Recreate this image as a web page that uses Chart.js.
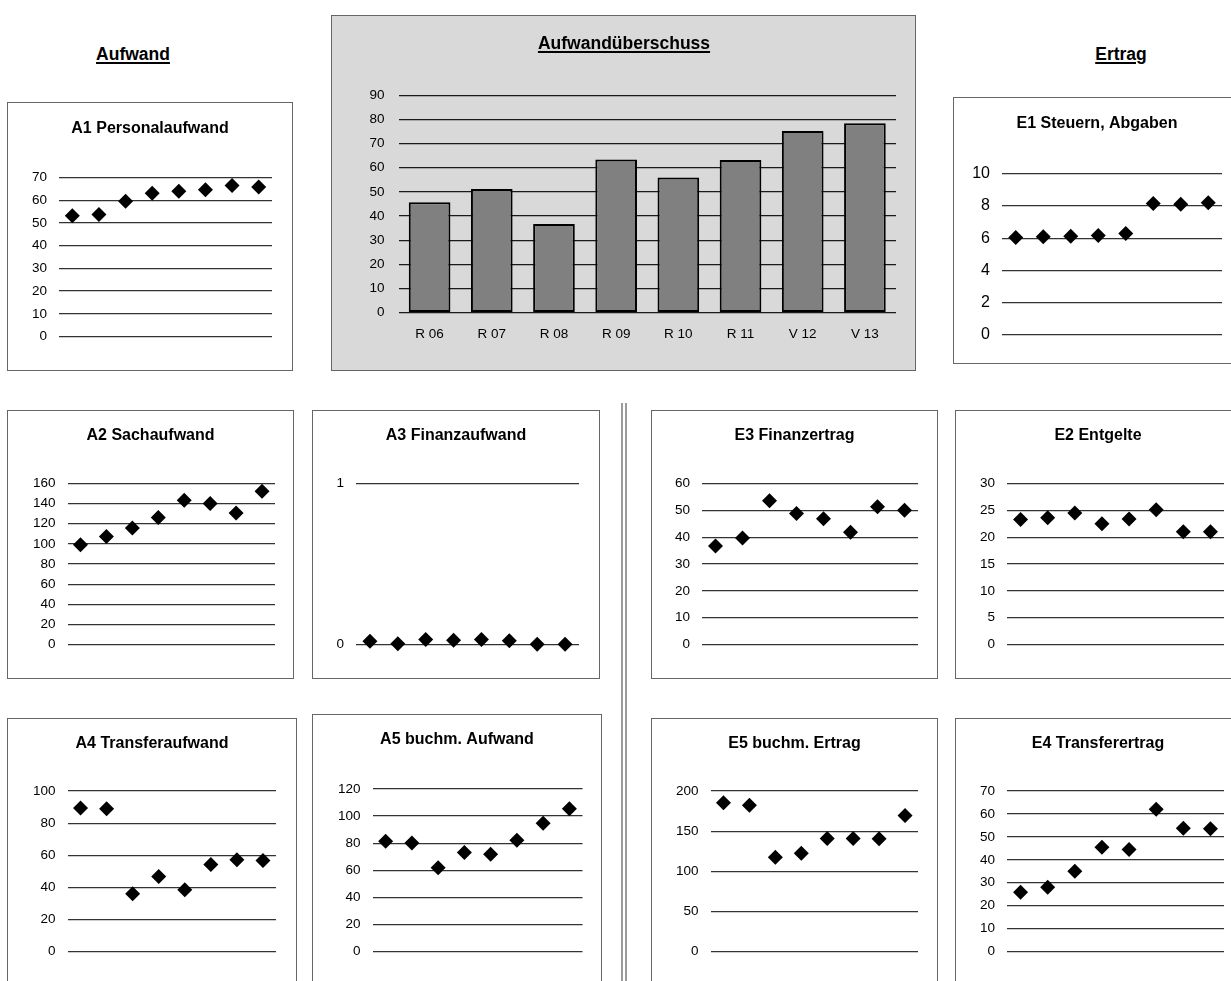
<!DOCTYPE html>
<html>
<head>
<meta charset="utf-8">
<title>Aufwand und Ertrag</title>
<script src="https://cdn.jsdelivr.net/npm/chart.js@4"></script>
<style>
  html, body { margin: 0; padding: 0; background: #fff; }
  body { width: 1231px; height: 981px; position: relative; overflow: hidden;
         font-family: 'Liberation Sans', Arial, sans-serif; }
  .box { position: absolute; box-sizing: border-box; border: 1px solid #666; background: #fff; }
  .box canvas { position: absolute; left: 0; top: 0; }
  .head { position: absolute; font-weight: bold; font-size: 17.5px; line-height: 20px;
          text-decoration: underline; text-decoration-thickness: 2px; text-underline-offset: 2px;
          white-space: nowrap; color: #000; transform: translateX(-50%); }
  .divider { position: absolute; left: 621px; top: 403px; width: 2px; height: 580px;
             border-left: 2px solid #9b9b9b; border-right: 2px solid #9b9b9b; }
</style>
</head>
<body>
<div class="head" style="left:133px; top:44px;">Aufwand</div>
<div class="head" style="left:1121px; top:44px;">Ertrag</div>
<div class="divider"></div>

<script>
// Years shown on the category axis
const years = ['R 06', 'R 07', 'R 08', 'R 09', 'R 10', 'R 11', 'V 12', 'V 13'];

// Aufwandüberschuss (bar chart)
const aufwandUeberschuss = [45.7, 51.2, 36.7, 63.4, 56.0, 63.2, 75.2, 78.4];

// Aufwand
const a1Personalaufwand = [53.2, 53.7, 59.5, 63.1, 63.9, 64.6, 66.5, 65.8];
const a2Sachaufwand     = [99.1, 107.4, 115.8, 126.1, 143.4, 140.1, 130.7, 152.4];
const a3Finanzaufwand   = [0.02, 0.004, 0.031, 0.027, 0.031, 0.023, 0.002, 0.001];
const a4Transferaufwand = [89.4, 89.0, 36.0, 46.7, 38.5, 54.2, 57.1, 56.7];
const a5BuchmAufwand    = [81.5, 80.2, 61.8, 73.1, 71.9, 82.2, 94.7, 105.5];

// Ertrag
const e1Steuern         = [6.04, 6.08, 6.12, 6.16, 6.29, 8.14, 8.10, 8.19];
const e2Entgelte        = [23.3, 23.6, 24.5, 22.5, 23.4, 25.1, 21.0, 21.0];
const e3Finanzertrag    = [36.7, 39.7, 53.6, 48.8, 46.9, 41.8, 51.3, 50.0];
const e4Transferertrag  = [25.8, 28.0, 35.0, 45.5, 44.5, 62.0, 53.7, 53.5];
const e5BuchmErtrag     = [185.4, 182.1, 117.5, 122.5, 140.8, 140.8, 140.4, 169.6];

// Value axis ranges [max, step]
const axisA1 = [70, 10], axisA2 = [160, 20], axisA3 = [1, 1], axisA4 = [100, 20], axisA5 = [120, 20];
const axisE1 = [10, 2],  axisE2 = [30, 5],   axisE3 = [60, 10], axisE4 = [70, 10], axisE5 = [200, 50];
const axisUeberschuss = [90, 10];

Chart.defaults.font.family = "'Liberation Sans', Arial, sans-serif";
Chart.defaults.color = '#000';
Chart.defaults.animation = false;

// Framed panel with a canvas filling its inside; box = [left, top, right, bottom] in page pixels
function makeBox(box, bg) {
  const [l, t, r, b] = box;
  const d = document.createElement('div');
  d.className = 'box';
  d.style.left = l + 'px';
  d.style.top = t + 'px';
  d.style.width = (r - l + 1) + 'px';
  d.style.height = (b - t + 1) + 'px';
  if (bg) d.style.background = bg;
  const c = document.createElement('canvas');
  const W = r - l - 1, H = b - t - 1;
  c.width = W; c.height = H;
  c.style.width = W + 'px'; c.style.height = H + 'px';
  d.appendChild(c);
  document.body.appendChild(d);
  return { canvas: c, W, H, ox: l + 1, oy: t + 1 };
}

// Small point charts: title, value axis, diamond markers per year
const panels = [
  { title: 'A1 Personalaufwand', data: a1Personalaufwand, axis: axisA1, box: [7, 102, 292, 370],  titleY: 128.5, plot: [59, 272, 177.5, 336.5],    tick: 13.5 },
  { title: 'E1 Steuern, Abgaben', data: e1Steuern,        axis: axisE1, box: [953, 97, 1240, 363], titleY: 123.5, plot: [1002, 1222, 173.5, 335],   tick: 16 },
  { title: 'A2 Sachaufwand',     data: a2Sachaufwand,     axis: axisA2, box: [7, 410, 293, 678],  titleY: 436,   plot: [67.5, 275, 483.5, 644.5],  tick: 13.5 },
  { title: 'A3 Finanzaufwand',   data: a3Finanzaufwand,   axis: axisA3, box: [312, 410, 599, 678], titleY: 436,  plot: [356, 579, 483.5, 644.5],   tick: 13.5 },
  { title: 'E3 Finanzertrag',    data: e3Finanzertrag,    axis: axisE3, box: [651, 410, 937, 678], titleY: 436,  plot: [702, 918, 483.5, 644.5],   tick: 13.5 },
  { title: 'E2 Entgelte',        data: e2Entgelte,        axis: axisE2, box: [955, 410, 1240, 678], titleY: 436, plot: [1007, 1224, 483.5, 644.5], tick: 13.5 },
  { title: 'A4 Transferaufwand', data: a4Transferaufwand, axis: axisA4, box: [7, 718, 296, 990],  titleY: 743.5, plot: [67.5, 276, 791, 951.5],    tick: 13.5 },
  { title: 'A5 buchm. Aufwand',  data: a5BuchmAufwand,    axis: axisA5, box: [312, 714, 601, 990], titleY: 740,  plot: [372.5, 582.5, 789, 951.5], tick: 13.5 },
  { title: 'E5 buchm. Ertrag',   data: e5BuchmErtrag,     axis: axisE5, box: [651, 718, 937, 990], titleY: 743.5, plot: [710.5, 918, 791, 951.5],  tick: 13.5 },
  { title: 'E4 Transferertrag',  data: e4Transferertrag,  axis: axisE4, box: [955, 718, 1240, 990], titleY: 743.5, plot: [1007, 1224, 791, 951.5], tick: 13.5 }
];

const TITLE_SIZE = 16;
const TITLE_LH = TITLE_SIZE * 1.2;

panels.forEach(p => {
  const { canvas, W, H, ox, oy } = makeBox(p.box);
  const left = p.plot[0] - ox, right = p.plot[1] - ox;
  const top = p.plot[2] - oy, bottom = p.plot[3] - oy;
  const padTop = (p.titleY - oy) - TITLE_LH / 2;
  const padBottom = top - padTop - TITLE_LH;
  new Chart(canvas, {
    type: 'line',
    data: {
      labels: years,
      datasets: [{
        data: p.data,
        showLine: false,
        pointStyle: 'rectRot',
        pointRadius: 7.5,
        pointHoverRadius: 7.5,
        pointBackgroundColor: '#000',
        pointBorderColor: '#000',
        pointBorderWidth: 0,
        borderColor: '#000',
        clip: false
      }]
    },
    options: {
      responsive: false,
      animation: false,
      events: [],
      layout: { padding: { left: 0, top: 0, right: 0, bottom: H - bottom } },
      plugins: {
        legend: { display: false },
        tooltip: { enabled: false },
        title: {
          display: true,
          text: p.title,
          color: '#000',
          font: { size: TITLE_SIZE, weight: 'bold' },
          padding: { top: padTop, bottom: padBottom }
        }
      },
      scales: {
        x: { type: 'category', offset: true, display: false },
        y: {
          min: 0, max: p.axis[0],
          ticks: { stepSize: p.axis[1], color: '#000', font: { size: p.tick }, padding: 12 },
          grid: { color: '#333', lineWidth: 1.2, drawTicks: false },
          border: { display: false },
          afterFit: s => { s.width = left; }
        },
        // empty margin on the right so the title stays centred on the frame
        yMargin: {
          position: 'right',
          min: 0, max: 1,
          ticks: { display: false },
          grid: { display: false, drawTicks: false },
          border: { display: false },
          afterFit: s => { s.width = W - right; }
        }
      }
    }
  });
});

// Aufwandüberschuss bar chart on grey panel
(function () {
  const { canvas, W, H, ox, oy } = makeBox([331, 15, 915, 370], '#d9d9d9');
  const plot = [398.5, 896, 95.3, 312.7];
  const left = plot[0] - ox, right = plot[1] - ox, top = plot[2] - oy, bottom = plot[3] - oy;
  const X_AXIS_H = 40;
  new Chart(canvas, {
    type: 'bar',
    data: {
      labels: years,
      datasets: [{
        data: aufwandUeberschuss,
        backgroundColor: '#808080',
        borderColor: '#000',
        borderWidth: 2,
        borderSkipped: false,
        barPercentage: 0.67,
        categoryPercentage: 1.0
      }]
    },
    options: {
      responsive: false,
      animation: false,
      events: [],
      layout: { padding: { left: 0, top: top, right: W - right, bottom: H - bottom - X_AXIS_H } },
      plugins: { legend: { display: false }, tooltip: { enabled: false } },
      scales: {
        x: {
          ticks: { color: '#000', font: { size: 13.5 }, padding: 5, maxRotation: 0 },
          grid: { display: false },
          border: { display: false },
          afterFit: s => { s.height = X_AXIS_H; }
        },
        y: {
          min: 0, max: axisUeberschuss[0],
          ticks: { stepSize: axisUeberschuss[1], color: '#000', font: { size: 13.5 }, padding: 14 },
          grid: { color: '#1a1a1a', lineWidth: 1.2, drawTicks: false },
          border: { display: false },
          afterFit: s => { s.width = left; }
        }
      }
    }
  });
})();
</script>
<div class="head" style="left:624px; top:33px; z-index:2;">Aufwandüberschuss</div>
</body>
</html>
